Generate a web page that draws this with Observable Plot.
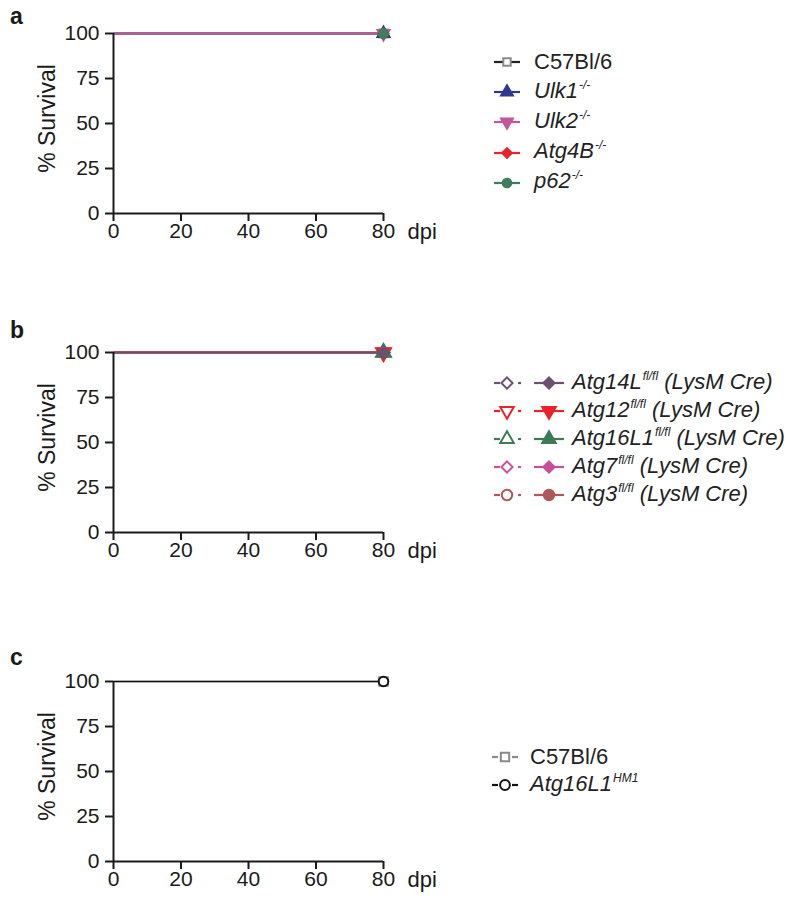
<!DOCTYPE html>
<html><head><meta charset="utf-8">
<script src="https://cdn.jsdelivr.net/npm/d3@7"></script>
<script src="https://cdn.jsdelivr.net/npm/@observablehq/plot@0.6"></script>
<style>
body{margin:0;background:#fff;font-family:Arial,"Liberation Sans",Helvetica,sans-serif;}
#root{position:relative;width:800px;height:899px;overflow:hidden;background:#fff}
.panel{position:absolute;left:0}
.letter{position:absolute;left:10px;font-weight:bold;font-size:23px;line-height:1;color:#1a1a1a}
.lrow{position:absolute;height:28px;display:flex;align-items:center;font-size:22px;font-weight:normal;color:#222;white-space:nowrap}
.lrow svg{display:block}
.lrow .txt{position:absolute;line-height:28px}
sup{font-size:12px;vertical-align:0;position:relative;top:-9px;margin-left:1px}
</style></head>
<body><div id="root"></div>
<script>
// ---------- data ----------
const days = [0, 80];            // time points (dpi)
const xTicks = [0, 20, 40, 60, 80];
const yTicks = [0, 25, 50, 75, 100];

// panel a
const namesA = ["C57Bl/6", "Ulk1", "Ulk2", "Atg4B", "p62"];
const supA = ["", "-/-", "-/-", "-/-", "-/-"];
const italicA = [false, true, true, true, true];
const survivalA = [[100, 100], [100, 100], [100, 100], [100, 100], [100, 100]];
const colorsA = ["#222222", "#2e3a90", "#c4569a", "#e8232b", "#3f7d5c"];
const markerStrokeA = ["#8a8a8a", "#2e3a90", "#c4569a", "#e8232b", "#3f7d5c"];
const symbolsA = ["square", "triangle", "triangleDown", "diamond2", "circle"];
const filledA = [false, true, true, true, true];

// panel b (control fl/fl and LysM Cre per gene)
const genesB = ["Atg14L", "Atg12", "Atg16L1", "Atg7", "Atg3"];
const supB = ["fl/fl", "fl/fl", "fl/fl", "fl/fl", "fl/fl"];
const suffixB = " (LysM Cre)";
const survivalBControl = [[100, 100], [100, 100], [100, 100], [100, 100], [100, 100]];
const survivalBCre = [[100, 100], [100, 100], [100, 100], [100, 100], [100, 100]];
const colorsB = ["#6b5170", "#e8232b", "#3d7a57", "#c8509a", "#b0575c"];
const symbolsB = ["diamond2", "triangleDown", "triangle", "diamond2", "circle"];

// panel c
const namesC = ["C57Bl/6", "Atg16L1"];
const supC = ["", "HM1"];
const italicC = [false, true];
const survivalC = [[100, 100], [100, 100]];
const colorsC = ["#8a8a8a", "#111111"];
const symbolsC = ["square", "circle"];

// ---------- helpers ----------
const triangleDown = {
  draw(context, size) {
    const s3 = Math.sqrt(3);
    const y = -Math.sqrt(size / (s3 * 3));
    context.moveTo(0, -y * 2);
    context.lineTo(-s3 * y, y);
    context.lineTo(s3 * y, y);
    context.closePath();
  }
};
function sym(name) {
  if (name === "triangleDown") return triangleDown;
  return name;
}
function d3sym(name) {
  return ({square: d3.symbolSquare, triangle: d3.symbolTriangle, triangleDown: triangleDown,
           diamond2: d3.symbolDiamond2 || d3.symbolSquare, circle: d3.symbolCircle})[name];
}
function rowsFor(series, values) {
  return days.map((day, j) => ({series, day, survival: values[j]}));
}

const font = "Arial, 'Liberation Sans', Helvetica, sans-serif";
function makePanel(seriesList, lineOrder, dotOrder) {
  const marks = [];
  for (const i of lineOrder) {
    const s = seriesList[i];
    marks.push(Plot.line(rowsFor(s.key, s.values), {x: "day", y: "survival", stroke: s.stroke, strokeWidth: 1.6}));
  }
  marks.push(Plot.ruleX([0], {stroke: "#1a1a1a", strokeWidth: 2, y1: 0, y2: 100}));
  marks.push(Plot.ruleY([0], {stroke: "#1a1a1a", strokeWidth: 2, x1: 0, x2: 80}));
  marks.push(Plot.axisY({ticks: yTicks, tickSize: 8, tickPadding: 6, strokeWidth: 2, stroke: "#1a1a1a", fill: "#1a1a1a", fontSize: 21, label: null}));
  marks.push(Plot.axisX({ticks: xTicks, tickSize: 8, tickPadding: 2, strokeWidth: 2, stroke: "#1a1a1a", fill: "#1a1a1a", fontSize: 21, label: null}));
  for (const i of dotOrder) {
    const s = seriesList[i];
    const last = rowsFor(s.key, s.values).filter(d => d.day === 80);
    marks.push(Plot.dot(last, {x: "day", y: "survival", symbol: sym(s.symbol), r: s.r, fill: s.fill, stroke: s.mstroke, strokeWidth: 2}));
  }
  marks.push(Plot.text(["% Survival"], {text: d => d, frameAnchor: "left", textAnchor: "middle", lineAnchor: "middle", rotate: -90, dx: -66, dy: -5, fontSize: 23, fill: "#1a1a1a"}));
  marks.push(Plot.text(["dpi"], {text: d => d, frameAnchor: "bottom-right", textAnchor: "start", lineAnchor: "middle", dx: 24, dy: 18, fontSize: 22, fill: "#1a1a1a"}));
  return Plot.plot({
    width: 460, height: 250,
    marginLeft: 113, marginRight: 77, marginTop: 33, marginBottom: 37,
    x: {domain: [0, 80]}, y: {domain: [0, 100]},
    style: {fontFamily: font, fontSize: "21px", color: "#1a1a1a", background: "transparent", overflow: "visible"},
    marks
  });
}

const root = document.getElementById("root");
function place(el, top) { el.classList.add("panel"); el.style.top = top + "px"; root.appendChild(el); }

// panel a
const serA = namesA.map((n, i) => ({key: n, values: survivalA[i], stroke: colorsA[i], mstroke: markerStrokeA[i],
  fill: filledA[i] ? colorsA[i] : "white", symbol: symbolsA[i], r: 4.5}));
place(makePanel(serA, [4, 3, 1, 0, 2], [0, 1, 2, 3, 4]), 0);

// panel b
const serB = [];
genesB.forEach((g, i) => {
  serB.push({key: g + " ctrl", values: survivalBControl[i], stroke: colorsB[i], mstroke: colorsB[i], fill: "white", symbol: symbolsB[i], r: 5});
  serB.push({key: g + " cre", values: survivalBCre[i], stroke: colorsB[i], mstroke: colorsB[i], fill: colorsB[i], symbol: symbolsB[i], r: 5.5});
});
const revB = serB.map((_, i) => serB.length - 1 - i);
const ctrlRev = revB.filter(i => i % 2 === 0), creRev = revB.filter(i => i % 2 === 1);
place(makePanel(serB, revB, [...ctrlRev, ...creRev]), 319);

// panel c
const serC = namesC.map((n, i) => ({key: n, values: survivalC[i], stroke: colorsC[i], mstroke: colorsC[i], fill: "white", symbol: symbolsC[i], r: 4.8}));
place(makePanel(serC, [0, 1], [0, 1]), 648);

// panel letters
[["a", 5], ["b", 319], ["c", 646]].forEach(([t, top]) => {
  const d = document.createElement("div"); d.className = "letter"; d.textContent = t; d.style.top = top + "px"; root.appendChild(d);
});

// ---------- legends ----------
function symbolSvg(parts, width) {
  const svg = d3.create("svg").attr("width", width).attr("height", 28);
  for (const p of parts) {
    if (p.segs) for (const sg of p.segs) svg.append("line").attr("x1", sg[0]).attr("x2", sg[1]).attr("y1", 14).attr("y2", 14)
      .attr("stroke", p.lineColor).attr("stroke-width", 2.2);
    svg.append("path").attr("transform", `translate(${p.cx},14)`)
      .attr("d", d3.symbol(d3sym(p.symbol), p.size)())
      .attr("fill", p.fill).attr("stroke", p.stroke).attr("stroke-width", 2);
  }
  return svg.node();
}
function legendRow(left, centerY, svgNode, textLeft, html) {
  const row = document.createElement("div");
  row.className = "lrow";
  row.style.left = left + "px";
  row.style.top = (centerY - 14) + "px";
  row.appendChild(svgNode);
  const t = document.createElement("span");
  t.className = "txt";
  t.style.left = (textLeft - left) + "px";
  t.innerHTML = html;
  row.appendChild(t);
  root.appendChild(row);
}
function label(name, sup, italic, suffix = "") {
  const body = name + (sup ? `<sup>${sup}</sup>` : "") + suffix;
  return italic ? `<i>${body}</i>` : body;
}

// legend a
namesA.forEach((n, i) => {
  const svg = symbolSvg([{segs: [[0, 26]], lineColor: colorsA[i], cx: 13, symbol: symbolsA[i],
    fill: filledA[i] ? colorsA[i] : "white", stroke: markerStrokeA[i], size: symbolsA[i] === "square" ? 55 : 60}], 28);
  legendRow(494, 62 + i * 30.2, svg, 534, label(n, supA[i], italicA[i]));
});

// legend b
genesB.forEach((g, i) => {
  const c = colorsB[i];
  const sz = symbolsB[i] === "circle" ? 85 : 80;
  const svg = symbolSvg([
    {segs: [[0, 6], [24, 27]], lineColor: c, cx: 13, symbol: symbolsB[i], fill: "white", stroke: c, size: sz},
    {segs: [[40, 70]], lineColor: c, cx: 55, symbol: symbolsB[i], fill: c, stroke: c, size: sz}
  ], 72);
  legendRow(494, 383 + i * 28, svg, 572, label(g, supB[i], true, suffixB));
});

// legend c
namesC.forEach((n, i) => {
  const svg = symbolSvg([{segs: [[0, 6], [20, 26]], lineColor: colorsC[i], cx: 13, symbol: symbolsC[i],
    fill: "white", stroke: colorsC[i], size: symbolsC[i] === "square" ? 70 : 75}], 28);
  legendRow(492, 757 + i * 28, svg, 530, label(n, supC[i], italicC[i]));
});
</script>
</body></html>
